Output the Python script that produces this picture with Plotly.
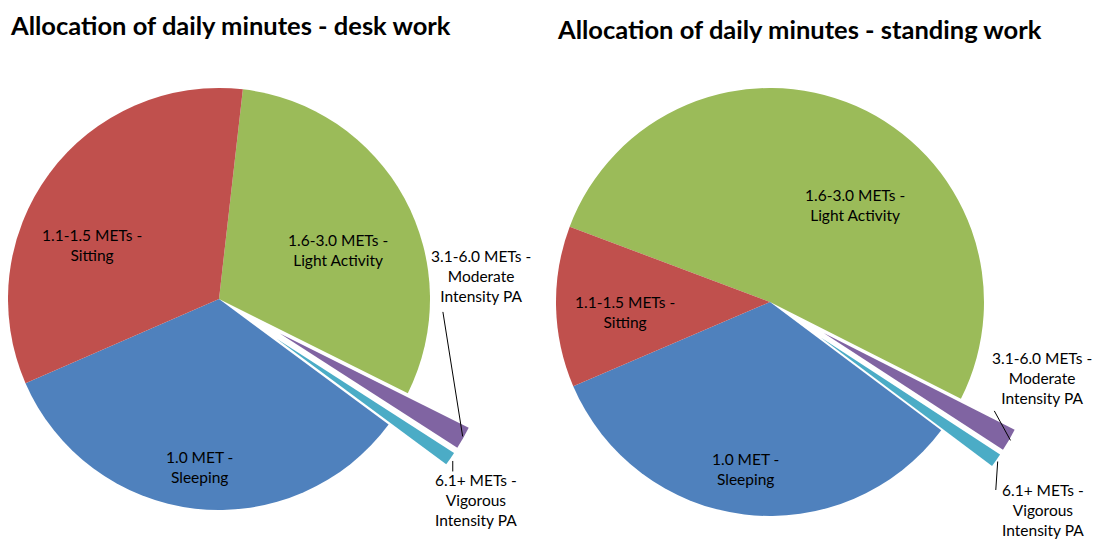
import math
import plotly.graph_objects as go

W, H = 1112, 544
OFF = 8  # page body margin: the figure is drawn 8px right/down inside the window

# ---- data ----
categories = [
    "1.6-3.0 METs - Light Activity",
    "3.1-6.0 METs - Moderate Intensity PA",
    "6.1+ METs - Vigorous Intensity PA",
    "1.0 MET - Sleeping",
    "1.1-1.5 METs - Sitting",
]
slice_labels = [
    "1.6-3.0 METs -<br>Light Activity",
    "3.1-6.0 METs -<br>Moderate<br>Intensity PA",
    "6.1+ METs -<br>Vigorous<br>Intensity PA",
    "1.0 MET -<br>Sleeping",
    "1.1-1.5 METs -<br>Sitting",
]
desk_minutes = [440, 25, 15, 480, 480]
standing_minutes = [745, 25, 15, 480, 175]
chart_titles = [
    "Allocation of daily minutes - desk work",
    "Allocation of daily minutes - standing work",
]

# ---- style ----
colors = ["#9BBB59", "#8064A2", "#4BACC6", "#4F81BD", "#C0504D"]
exploded = [False, True, True, False, False]
FONT = "Lato"
TXT = 15.5

charts = [
    dict(values=desk_minutes, cx=219, cy=299, r=211, rot=6.5, d=70,
         title=chart_titles[0], tx=8, ty=25,
         inside={0: (0.61, 6), 3: (0.80, 0), 4: (0.655, -13.5)},
         lab={1: dict(off=(20, -160), head=(2, 0), tail=(-20, -126)),
              2: dict(off=(28, 43), head=(5, 4), tail=(0, 12))}),
    dict(values=standing_minutes, cx=770, cy=302, r=214, rot=290.6, d=62,
         title=chart_titles[1], tx=555, ty=29,
         inside={0: (0.60, 17.5), 3: (0.79, 1.6), 4: (0.68, -2.7)},
         lab={1: dict(off=(36, -60), head=(4, 2), tail=(-17, -31)),
              2: dict(off=(49, 52), head=(4, 3), tail=(-2, 30))}),
]


def px(x, y):
    """window pixel -> paper fraction"""
    return (x - OFF) / W, 1 - (y - OFF) / H


def domain(cx, cy, r):
    x0, y1 = px(cx - r, cy - r)
    x1, y0 = px(cx + r, cy + r)
    return dict(x=[x0, x1], y=[y0, y1])


fig = go.Figure()
annotations = []

for ch in charts:
    vals = ch["values"]
    total = float(sum(vals))
    main_colors = ["rgba(0,0,0,0)" if e else c for c, e in zip(colors, exploded)]
    fig.add_trace(go.Pie(
        labels=categories, values=vals, sort=False, direction="clockwise",
        rotation=ch["rot"], domain=domain(ch["cx"], ch["cy"], ch["r"]),
        marker=dict(colors=main_colors, line=dict(width=0)),
        textinfo="none", showlegend=False, hoverinfo="label+value",
    ))
    start = ch["rot"]
    for i, v in enumerate(vals):
        span = v / total * 360.0
        mid_deg = start + span / 2
        start += span
        if not exploded[i]:
            rf, dth = ch["inside"][i]
            a = math.radians(mid_deg + dth)
            lx, ly = px(ch["cx"] + rf * ch["r"] * math.sin(a),
                        ch["cy"] - rf * ch["r"] * math.cos(a))
            annotations.append(dict(
                x=lx, y=ly, xref="paper", yref="paper", text=slice_labels[i],
                showarrow=False, xanchor="center", yanchor="middle", align="center",
                font=dict(family=FONT, size=TXT, color="black"),
            ))
            continue
        mid = math.radians(mid_deg)
        ux, uy = math.sin(mid), -math.cos(mid)
        # exploded slice: same wedge with its centre moved outwards
        ocx = ch["cx"] + ch["d"] * ux
        ocy = ch["cy"] + ch["d"] * uy
        cols = [colors[j] if j == i else "rgba(0,0,0,0)" for j in range(len(vals))]
        fig.add_trace(go.Pie(
            labels=categories, values=vals, sort=False, direction="clockwise",
            rotation=ch["rot"], domain=domain(ocx, ocy, ch["r"]),
            marker=dict(colors=cols, line=dict(width=0)),
            textinfo="none", showlegend=False, hoverinfo="skip",
        ))
        tipx = ch["cx"] + (ch["d"] + ch["r"] - 3) * ux
        tipy = ch["cy"] + (ch["d"] + ch["r"] - 3) * uy
        lb = ch["lab"][i]
        lx, ly = px(tipx + lb["off"][0], tipy + lb["off"][1])
        annotations.append(dict(
            x=lx, y=ly, xref="paper", yref="paper", text=slice_labels[i],
            showarrow=False, xanchor="center", yanchor="middle", align="center",
            font=dict(family=FONT, size=TXT, color="black"),
        ))
        hx, hy = px(tipx + lb["head"][0], tipy + lb["head"][1])
        annotations.append(dict(
            x=hx, y=hy, xref="paper", yref="paper", text="", showarrow=True,
            arrowhead=0, arrowwidth=1, arrowcolor="black",
            ax=lb["tail"][0], ay=lb["tail"][1],
        ))
    tx, ty = px(ch["tx"], ch["ty"])
    annotations.append(dict(
        x=tx, y=ty, xref="paper", yref="paper",
        text="<b>" + ch["title"] + "</b>", showarrow=False,
        xanchor="left", yanchor="middle",
        font=dict(family=FONT, size=25.5, color="black"),
    ))

fig.update_layout(
    width=W, height=H, margin=dict(l=0, r=0, t=0, b=0),
    paper_bgcolor="white", plot_bgcolor="white",
    showlegend=False, annotations=annotations,
)

fig.write_html("out.html")
